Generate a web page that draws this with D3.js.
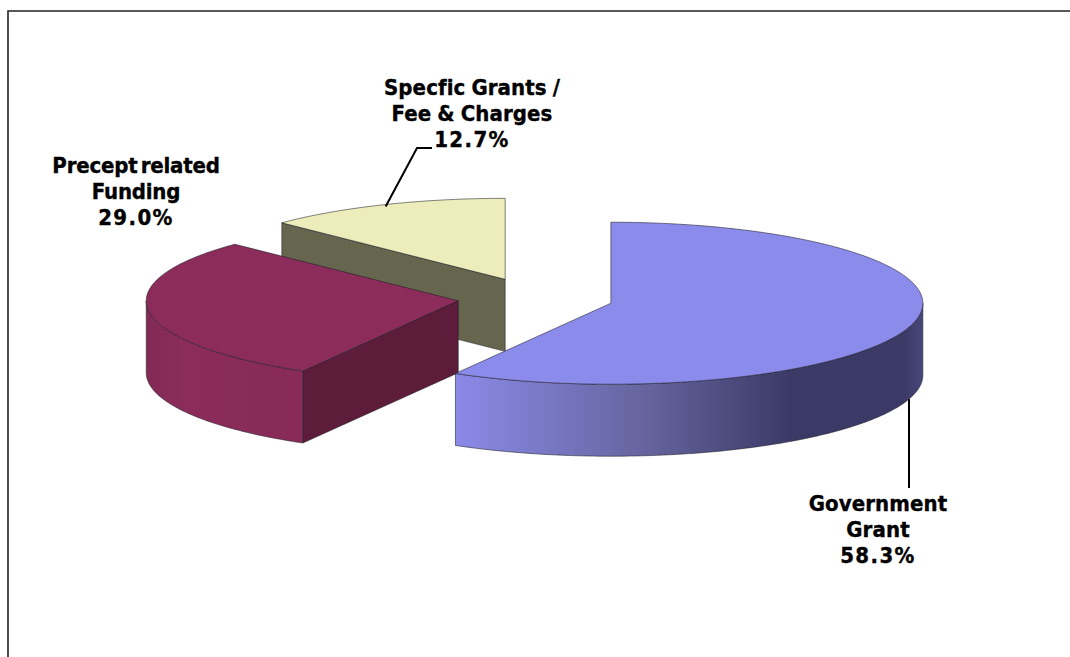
<!DOCTYPE html>
<html>
<head>
<meta charset="utf-8">
<style>
  html, body { margin: 0; padding: 0; background: #fff; }
  svg { display: block; }
  text { font-family: "DejaVu Sans Condensed", "DejaVu Sans", sans-serif; font-stretch: condensed; font-weight: 700; fill: #000; stroke: #000; stroke-width: 0.35px; }
</style>
</head>
<body>
<svg id="chart" width="1070" height="657"></svg>
<script src="https://cdn.jsdelivr.net/npm/d3@7/dist/d3.min.js"></script>
<script>
// Funding sources, in pie order (clockwise from twelve o'clock)
const sources = ["Government Grant", "Precept related Funding", "Specfic Grants / Fee & Charges"];
const shares = [58.3, 29.0, 12.7];
const labelLines = [["Government", "Grant"], ["Precept related", "Funding"], ["Specfic Grants /", "Fee & Charges"]];

const topColors = ["#8b8bec", "#8b2c5a", "#ededbc"];
const faceColors = ["#3c3a68", "#5c1c3a", "#66664f"];
const sideStops = [
  [[0, "#8a8ae8"], [0.4, "#66659f"], [0.72, "#3b3966"], [0.96, "#3b3966"], [1, "#47477a"]],
  [[0, "#832a56"], [0.25, "#8b2c5a"], [1, "#882b58"]],
  [[0, "#66664f"], [1, "#66664f"]]
];

// Pie projection
const cx = 535.5, cy = 298, rx = 312, ry = 81, depth = 72, explode = 0.25;
const edge = "rgba(30,30,40,0.7)";

const svg = d3.select("#chart");
const defs = svg.append("defs");

// Chart frame, running off the right and bottom of the page
svg.append("path")
  .attr("d", "M8,657V11H1070")
  .attr("fill", "none").attr("stroke", "#222").attr("stroke-width", 1.6);

const pie = d3.pie().sort(null).startAngle(0).endAngle(2 * Math.PI);
const arcs = pie(shares);

const line = d3.line();
const project = (c, a, r = 1) => [c.x + r * rx * Math.sin(a), c.y - r * ry * Math.cos(a)];
const sweep = (a0, a1) => {
  const n = Math.max(2, Math.ceil((a1 - a0) / 0.01));
  return d3.range(n + 1).map(i => a0 + (a1 - a0) * i / n);
};

const slices = arcs.map((d, i) => {
  const mid = (d.startAngle + d.endAngle) / 2;
  return {
    i, d,
    c: { x: cx + explode * rx * Math.sin(mid), y: cy - explode * ry * Math.cos(mid) }
  };
});

// Back slices first, so that nearer ones overlap them
slices.slice().reverse().forEach(({ i, d, c }) => {
  const g = svg.append("g").attr("class", "slice");
  const drop = p => [p[0], p[1] + depth];
  const centre = [c.x, c.y];

  // Cut faces turned towards the viewer
  const cutFace = a => {
    const p = project(c, a);
    g.append("path")
      .attr("d", line([centre, p, drop(p), drop(centre)]) + "Z")
      .attr("fill", faceColors[i]).attr("stroke", edge).attr("stroke-width", 0.8);
  };
  if (Math.sin(d.startAngle) < -1e-6) cutFace(d.startAngle);
  if (Math.sin(d.endAngle) > 1e-6) cutFace(d.endAngle);

  // Rim: only the part of the ellipse that lies in front of the centre
  const a0 = Math.max(d.startAngle, Math.PI / 2);
  const a1 = Math.min(d.endAngle, 3 * Math.PI / 2);
  if (a1 > a0) {
    const upper = sweep(a0, a1).map(a => project(c, a));
    const lower = upper.map(drop).reverse();
    const xs = d3.extent(upper, p => p[0]);
    const gradId = "rim-" + i;
    const grad = defs.append("linearGradient").attr("id", gradId)
      .attr("gradientUnits", "userSpaceOnUse")
      .attr("x1", xs[0]).attr("x2", xs[1]).attr("y1", 0).attr("y2", 0);
    sideStops[i].forEach(([o, col]) => grad.append("stop").attr("offset", o).attr("stop-color", col));
    g.append("path")
      .attr("d", line(upper.concat(lower)) + "Z")
      .attr("fill", `url(#${gradId})`).attr("stroke", edge).attr("stroke-width", 0.8);
  }

  // Top surface
  const top = [centre].concat(sweep(d.startAngle, d.endAngle).map(a => project(c, a)));
  g.append("path")
    .attr("d", line(top) + "Z")
    .attr("fill", topColors[i]).attr("stroke", edge).attr("stroke-width", 0.8)
    .attr("stroke-linejoin", "round");
});

// Leader lines from the labels to their slices
const leaders = [
  { slice: 0, angle: 1.87, rim: depth, path: [[909, 488]] },
  { slice: 2, angle: 5.89, rim: 2, path: [[417, 148], [432, 148]] }
];
leaders.forEach(l => {
  const s = slices[l.slice];
  const a = project(s.c, l.angle);
  const start = [a[0], a[1] + l.rim];
  const pts = [start].concat(l.path);
  if (l.slice === 0) pts[1] = [start[0], pts[1][1]];
  svg.append("path").attr("d", line(pts))
    .attr("fill", "none").attr("stroke", "#000").attr("stroke-width", 2);
});

// Data labels: two name lines, then the share on a slightly looser third line
const labelPos = [
  { x: 878, y: 511, wordGap: 0, track: 0.1 },
  { x: 136, y: 173, wordGap: -3.5, track: -0.2 },
  { x: 472, y: 95, wordGap: -1, track: 0.1 }
];
const lineStep = 25.9;
const label = svg.append("g").attr("class", "labels");
sources.forEach((name, i) => {
  const t = label.append("text")
    .attr("x", labelPos[i].x).attr("y", labelPos[i].y)
    .attr("text-anchor", "middle").attr("font-size", 22)
    .attr("word-spacing", labelPos[i].wordGap);
  labelLines[i].concat(shares[i].toFixed(1) + "%").forEach((s, k) => {
    t.append("tspan").attr("x", labelPos[i].x)
      .attr("y", labelPos[i].y + k * lineStep)
      .attr("letter-spacing", k === 2 ? 1.4 : labelPos[i].track)
      .text(s);
  });
});
</script>
</body>
</html>
